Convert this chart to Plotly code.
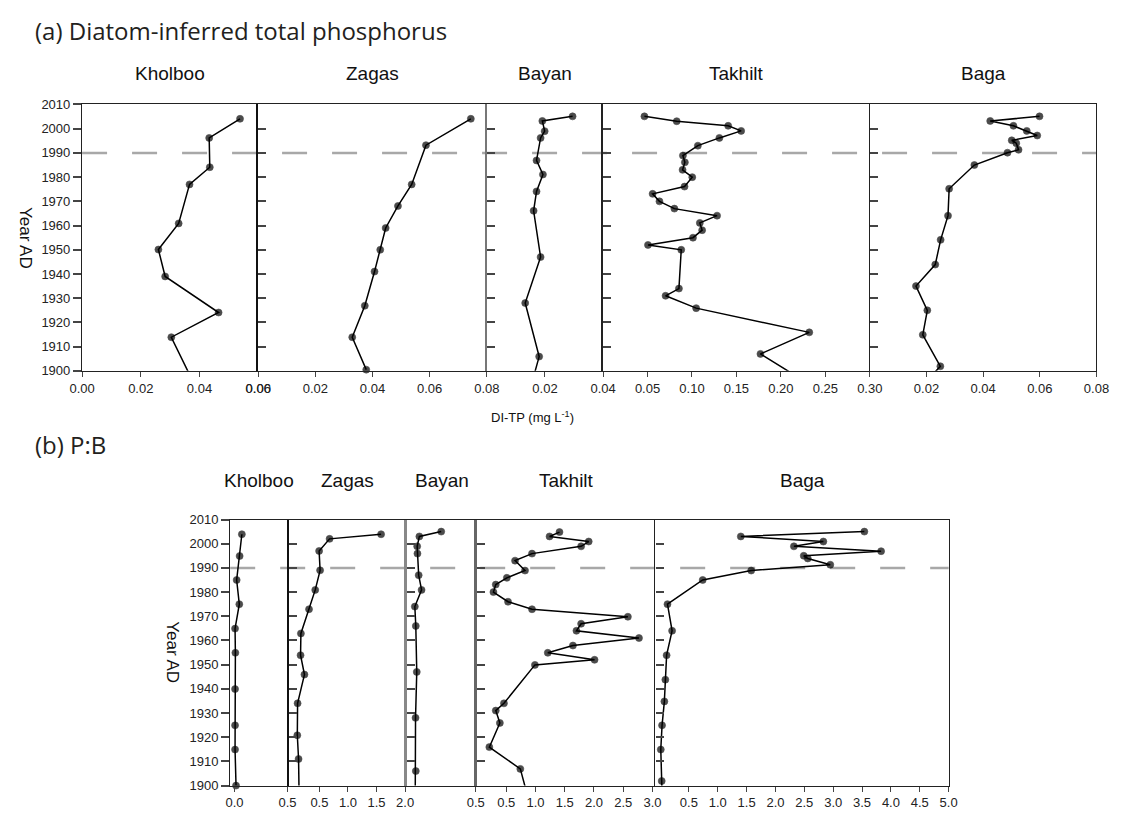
import plotly.graph_objects as go

FIG_W, FIG_H = 1129, 825

# ---------------- data ----------------
lakes = ["Kholboo", "Zagas", "Bayan", "Takhilt", "Baga"]

# (a) diatom-inferred total phosphorus, mg L-1
tp_kholboo_year = [2004.1, 1996.2, 1984.1, 1977.0, 1960.9, 1950.1, 1939.0, 1924.1, 1913.9, 1895.0]
tp_kholboo = [0.0538, 0.0433, 0.0435, 0.0366, 0.0329, 0.0260, 0.0283, 0.0465, 0.0304, 0.0380]

tp_zagas_year = [2004.1, 1993.2, 1977.0, 1968.1, 1959.0, 1950.0, 1941.0, 1926.9, 1913.9, 1900.5]
tp_zagas = [0.0744, 0.0587, 0.0537, 0.0489, 0.0446, 0.0427, 0.0407, 0.0373, 0.0329, 0.0378]

tp_bayan_year = [2005.1, 2003.2, 1999.0, 1996.2, 1986.9, 1981.1, 1974.1, 1966.1, 1947.0, 1928.0, 1905.9, 1895.0]
tp_bayan = [0.0295, 0.0191, 0.0199, 0.0185, 0.0171, 0.0193, 0.0171, 0.0161, 0.0185, 0.0132, 0.0180, 0.0155]

tp_takhilt_year = [2005.1, 2003.1, 2001.2, 1999.1, 1996.2, 1993.0, 1988.9, 1986.1, 1983.0, 1980.0,
                   1976.1, 1973.1, 1970.0, 1967.0, 1964.1, 1961.1, 1958.1, 1955.0, 1952.0, 1950.0,
                   1934.0, 1931.0, 1925.9, 1915.9, 1907.0, 1897.0]
tp_takhilt = [0.0465, 0.0828, 0.1407, 0.1553, 0.1308, 0.1066, 0.0898, 0.0920, 0.0894, 0.1003,
              0.0916, 0.0557, 0.0634, 0.0802, 0.1282, 0.1088, 0.1114, 0.1011, 0.0505, 0.0879,
              0.0853, 0.0703, 0.1047, 0.2319, 0.1770, 0.2210]

tp_baga_year = [2005.1, 2003.2, 2001.2, 1999.1, 1997.2, 1995.2, 1994.0, 1991.3, 1990.1, 1985.0,
                1975.2, 1964.1, 1954.1, 1943.9, 1935.0, 1925.0, 1914.9, 1901.9, 1897.0]
tp_baga = [0.0599, 0.0425, 0.0507, 0.0554, 0.0591, 0.0501, 0.0517, 0.0525, 0.0486, 0.0369,
           0.0280, 0.0276, 0.0250, 0.0231, 0.0163, 0.0203, 0.0187, 0.0249, 0.0210]

# (b) planktonic : benthic diatom ratio
pb_kholboo_year = [2003.9, 1994.9, 1985.0, 1975.0, 1964.9, 1954.9, 1939.9, 1924.9, 1914.9, 1900.0]
pb_kholboo = [0.070, 0.049, 0.021, 0.046, 0.006, 0.009, 0.006, 0.006, 0.006, 0.015]

pb_zagas_year = [2003.9, 2002.0, 1997.0, 1989.0, 1980.9, 1972.9, 1962.9, 1953.9, 1945.9, 1934.0, 1920.8, 1911.0, 1895.0]
pb_zagas = [1.58, 0.678, 0.495, 0.512, 0.427, 0.318, 0.176, 0.170, 0.238, 0.118, 0.113, 0.135, 0.145]

pb_bayan_year = [2005.0, 2003.0, 1998.9, 1995.9, 1987.0, 1980.9, 1974.0, 1966.0, 1947.0, 1928.0, 1906.0, 1897.0]
pb_bayan = [0.249, 0.090, 0.074, 0.076, 0.085, 0.106, 0.057, 0.064, 0.071, 0.062, 0.064, 0.060]

pb_takhilt_year = [2004.8, 2003.0, 2000.9, 1998.9, 1995.9, 1993.0, 1988.9, 1985.9, 1983.1, 1980.0,
                   1976.0, 1972.9, 1969.8, 1966.9, 1964.0, 1961.0, 1957.9, 1954.9, 1952.0, 1949.9,
                   1934.0, 1931.0, 1925.9, 1915.9, 1906.9, 1897.0]
pb_takhilt = [1.41, 1.24, 1.91, 1.78, 0.94, 0.65, 0.82, 0.51, 0.32, 0.28,
              0.53, 0.94, 2.58, 1.78, 1.70, 2.77, 1.64, 1.21, 2.01, 0.99,
              0.46, 0.32, 0.39, 0.21, 0.74, 0.85]

pb_baga_year = [2005.0, 2003.0, 2000.9, 1998.9, 1996.9, 1995.0, 1993.9, 1991.3, 1988.9, 1985.0,
                1975.0, 1964.0, 1953.9, 1943.8, 1934.8, 1924.9, 1914.9, 1901.9, 1897.0]
pb_baga = [3.54, 1.40, 2.83, 2.32, 3.83, 2.49, 2.56, 2.95, 1.58, 0.74,
           0.13, 0.21, 0.115, 0.093, 0.076, 0.036, 0.014, 0.030, 0.035]

# x-axis ranges and tick labels per panel (a panel's zero tick is shared with its neighbour's last tick)
tp_ranges = [[0, 0.06], [0, 0.08], [0, 0.04], [0, 0.30], [0, 0.08]]
tp_tickvals = [[0, 0.02, 0.04, 0.06], [0, 0.02, 0.04, 0.06, 0.08], [0.02, 0.04],
               [0.05, 0.10, 0.15, 0.20, 0.25, 0.30], [0.02, 0.04, 0.06, 0.08]]
tp_ticktext = [["0.00", "0.02", "0.04", "0.06"], ["0.00", "0.02", "0.04", "0.06", "0.08"], ["0.02", "0.04"],
               ["0.05", "0.10", "0.15", "0.20", "0.25", "0.30"], ["0.02", "0.04", "0.06", "0.08"]]

pb_ranges = [[-0.04, 0.512], [-0.036, 2.034], [0, 0.51], [0, 3.05], [-0.08, 5.0]]
pb_tickvals = [[0, 0.5], [0.5, 1.0, 1.5, 2.0], [0.5],
               [0.5, 1.0, 1.5, 2.0, 2.5, 3.0], [0.5, 1.0, 1.5, 2.0, 2.5, 3.0, 3.5, 4.0, 4.5, 5.0]]
pb_ticktext = [["0.0", "0.5"], ["0.5", "1.0", "1.5", "2.0"], ["0.5"],
               ["0.5", "1.0", "1.5", "2.0", "2.5", "3.0"],
               ["0.5", "1.0", "1.5", "2.0", "2.5", "3.0", "3.5", "4.0", "4.5", "5.0"]]

year_ticks = list(range(1900, 2011, 10))
year_range = [1900, 2010]
boundary_year = 1990

# ---------------- layout geometry (pixels) ----------------
top_cols = [(70.7, 251), (251, 485), (485, 604), (604, 877), (877, 1109)]
bot_cols = [(222.3, 282.3), (282.3, 403.3), (403.3, 475), (475, 657.5), (657.5, 957.7)]
top_rows = (99.3, 370.6)
bot_rows = (522, 793)

# left-edge line of each panel (colour, width); the last panel also draws its right edge
top_edges = [("#222222", 1.3), ("#111111", 2.2), ("#777777", 2.0), ("#222222", 1.5), ("#222222", 1.4)]
bot_edges = [("#222222", 1.3), ("#111111", 1.8), ("#888888", 3.0), ("#666666", 2.5), ("#222222", 1.4)]


def px_x(px):
    return px / FIG_W


def px_y(py):
    return 1 - py / FIG_H


TICK_FONT = dict(family="Liberation Sans, Arial, sans-serif", size=13, color="#222222")
AXIS_COLOR = "#222222"

tp_series = [(tp_kholboo_year, tp_kholboo), (tp_zagas_year, tp_zagas), (tp_bayan_year, tp_bayan),
             (tp_takhilt_year, tp_takhilt), (tp_baga_year, tp_baga)]
pb_series = [(pb_kholboo_year, pb_kholboo), (pb_zagas_year, pb_zagas), (pb_bayan_year, pb_bayan),
             (pb_takhilt_year, pb_takhilt), (pb_baga_year, pb_baga)]

fig = go.Figure()
layout = {}

panels = []
for col in range(5):
    panels.append(dict(series=tp_series[col], cols=top_cols[col], rows=top_rows, rng=tp_ranges[col],
                       tv=tp_tickvals[col], tt=tp_ticktext[col], col=col, edge=top_edges[col]))
for col in range(5):
    panels.append(dict(series=pb_series[col], cols=bot_cols[col], rows=bot_rows, rng=pb_ranges[col],
                       tv=pb_tickvals[col], tt=pb_ticktext[col], col=col, edge=bot_edges[col]))

for i, p in enumerate(panels):
    n = i + 1
    xname = "x" if n == 1 else f"x{n}"
    yname = "y" if n == 1 else f"y{n}"
    years, vals = p["series"]
    sizes = [7 if y >= year_range[0] - 0.5 else 0 for y in years]
    fig.add_trace(go.Scatter(
        x=vals, y=years, mode="lines+markers", xaxis=xname, yaxis=yname,
        line=dict(color="black", width=1.5),
        marker=dict(color="black", size=sizes, line=dict(color="black", width=0.6)),
        cliponaxis=False, showlegend=False, hoverinfo="skip",
    ))
    x0, x1 = p["cols"]
    y0, y1 = p["rows"]
    col = p["col"]
    edge_color, edge_width = p["edge"]
    layout["xaxis" if n == 1 else f"xaxis{n}"] = dict(
        domain=[px_x(x0), px_x(x1)], range=p["rng"], anchor=yname,
        showline=True, mirror=True, linecolor=AXIS_COLOR, linewidth=1.3,
        ticks="outside", ticklen=5, tickwidth=1.3, tickcolor="#444444",
        tickvals=p["tv"], ticktext=p["tt"], tickfont=TICK_FONT,
        showgrid=False, zeroline=False, fixedrange=True,
    )
    layout["yaxis" if n == 1 else f"yaxis{n}"] = dict(
        domain=[px_y(y1), px_y(y0)], range=year_range, anchor=xname,
        showline=True, mirror=(col == 4), linecolor=edge_color, linewidth=edge_width,
        ticks="outside" if col == 0 else "inside", ticklen=8, tickwidth=1.5, tickcolor="#444444",
        tickvals=year_ticks, showticklabels=(col == 0), tickfont=TICK_FONT,
        showgrid=False, zeroline=False, fixedrange=True,
    )


def year_to_py(year, rows):
    y0, y1 = rows
    return y0 + (year_range[1] - year) / (year_range[1] - year_range[0]) * (y1 - y0)


shapes = []
for cols, rows in ((top_cols, top_rows), (bot_cols, bot_rows)):
    yy = px_y(year_to_py(boundary_year, rows))
    shapes.append(dict(type="line", xref="paper", yref="paper",
                       x0=px_x(cols[0][0]), x1=px_x(cols[-1][1]), y0=yy, y1=yy,
                       line=dict(color="#a8a8a8", width=2.5, dash="25px,25px"), layer="below"))

HEAD_FONT = dict(family="Open Sans, Noto Sans, sans-serif", size=24, color="#231f20")
TITLE_FONT = dict(family="Liberation Sans, Arial, sans-serif", size=19, color="#111111")
LABEL_FONT = dict(family="Liberation Sans, Arial, sans-serif", size=17, color="#111111")

annotations = [
    dict(text="(a) Diatom-inferred total phosphorus", x=px_x(20), y=px_y(24), xanchor="left", yanchor="middle",
         font=HEAD_FONT),
    dict(text="(b) P:B", x=px_x(20), y=px_y(446), xanchor="left", yanchor="middle", font=HEAD_FONT),
    dict(text="DI-TP (mg L<sup>-1</sup>)", x=px_x(532), y=px_y(418), xanchor="center", yanchor="middle",
         font=dict(family="Liberation Sans, Arial, sans-serif", size=13, color="#111111")),
    dict(text="Year AD", x=px_x(13), y=px_y(sum(top_rows) / 2), textangle=90, xanchor="center", yanchor="middle",
         font=LABEL_FONT),
    dict(text="Year AD", x=px_x(163), y=px_y(sum(bot_rows) / 2), textangle=90, xanchor="center",
         yanchor="middle", font=LABEL_FONT),
]
for col, name in enumerate(lakes):
    annotations.append(dict(text=name, x=px_x(sum(top_cols[col]) / 2), y=px_y(68), xanchor="center",
                            yanchor="middle", font=TITLE_FONT))
    annotations.append(dict(text=name, x=px_x(sum(bot_cols[col]) / 2), y=px_y(482), xanchor="center",
                            yanchor="middle", font=TITLE_FONT))
for a in annotations:
    a.update(xref="paper", yref="paper", showarrow=False)

fig.update_layout(
    width=FIG_W, height=FIG_H, margin=dict(l=0, r=0, t=0, b=0),
    paper_bgcolor="white", plot_bgcolor="rgba(0,0,0,0)",
    shapes=shapes, annotations=annotations, showlegend=False,
    **layout,
)

fig.write_html("out.html")
